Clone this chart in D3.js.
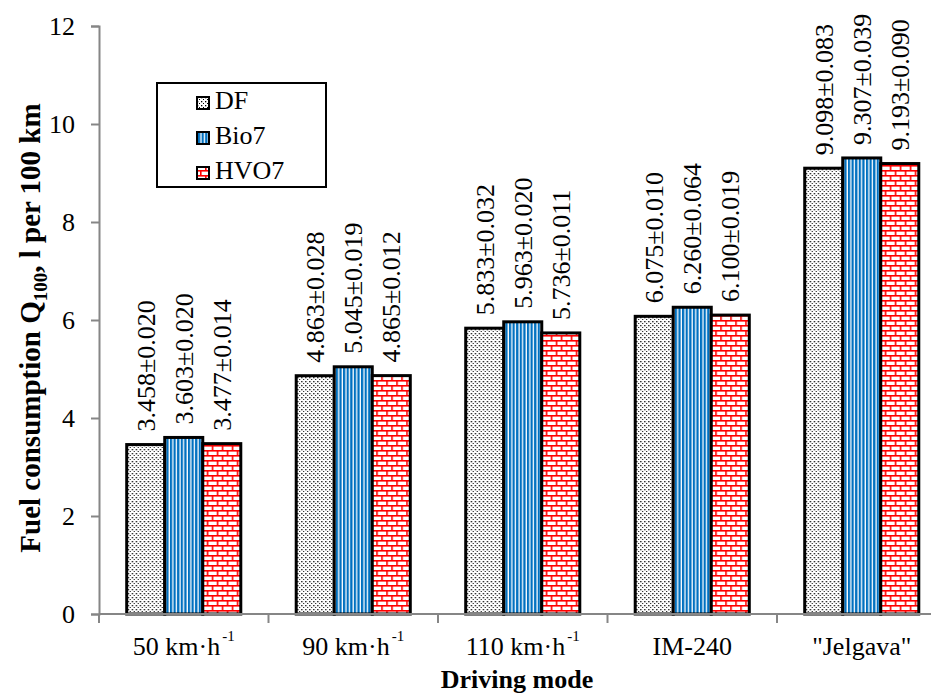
<!DOCTYPE html>
<html>
<head>
<meta charset="utf-8">
<script src="https://cdn.jsdelivr.net/npm/d3@7"></script>
<style>
  html, body { margin: 0; padding: 0; background: #fff; }
  svg { display: block; }
  text { font-family: "Liberation Serif", "Times New Roman", serif; fill: #000; }
</style>
</head>
<body>
<svg id="chart" width="931" height="695"></svg>
<script>
// Driving modes (x categories) and their unit superscripts
const categories = ["50 km·h", "90 km·h", "110 km·h", "IM-240", "\"Jelgava\""];
const categorySup = ["-1", "-1", "-1", "", ""];

// Fuel types
const series = ["DF", "Bio7", "HVO7"];

// Mean fuel consumption, l per 100 km, and its deviation
const dfValues   = [3.458, 4.863, 5.833, 6.075, 9.098];
const dfErr      = [0.020, 0.028, 0.032, 0.010, 0.083];
const bio7Values = [3.603, 5.045, 5.963, 6.260, 9.307];
const bio7Err    = [0.020, 0.019, 0.020, 0.064, 0.039];
const hvo7Values = [3.477, 4.865, 5.736, 6.100, 9.193];
const hvo7Err    = [0.014, 0.012, 0.011, 0.019, 0.090];

const yTicks = [0, 2, 4, 6, 8, 10, 12];

const valuesBySeries = { DF: dfValues, Bio7: bio7Values, HVO7: hvo7Values };
const errBySeries = { DF: dfErr, Bio7: bio7Err, HVO7: hvo7Err };

const svg = d3.select("#chart");

// ----- fill patterns -----
const defs = svg.append("defs");

const pDots = defs.append("pattern").attr("id", "pat-df")
  .attr("patternUnits", "userSpaceOnUse").attr("width", 4).attr("height", 4);
pDots.append("rect").attr("width", 4).attr("height", 4).attr("fill", "#fff");
pDots.append("rect").attr("x", 1).attr("y", 1).attr("width", 1.3).attr("height", 1.3).attr("fill", "#000");
pDots.append("rect").attr("x", 3).attr("y", 3).attr("width", 1.3).attr("height", 1.3).attr("fill", "#000");

const pStripes = defs.append("pattern").attr("id", "pat-bio7")
  .attr("patternUnits", "userSpaceOnUse").attr("width", 3.6).attr("height", 4);
pStripes.append("rect").attr("width", 3.6).attr("height", 4).attr("fill", "#fff");
pStripes.append("rect").attr("width", 2.3).attr("height", 4).attr("fill", "#0070C0");

const bw = 10, bh = 5, lw = 1.6;
const pBricks = defs.append("pattern").attr("id", "pat-hvo7")
  .attr("patternUnits", "userSpaceOnUse").attr("width", bw).attr("height", bh * 2);
pBricks.append("rect").attr("width", bw).attr("height", bh * 2).attr("fill", "#fff");
pBricks.append("rect").attr("x", 0).attr("y", 0).attr("width", bw).attr("height", lw).attr("fill", "#f00");
pBricks.append("rect").attr("x", 0).attr("y", bh).attr("width", bw).attr("height", lw).attr("fill", "#f00");
pBricks.append("rect").attr("x", 0).attr("y", 0).attr("width", lw).attr("height", bh).attr("fill", "#f00");
pBricks.append("rect").attr("x", bw / 2).attr("y", bh).attr("width", lw).attr("height", bh).attr("fill", "#f00");

const fillFor = { DF: "url(#pat-df)", Bio7: "url(#pat-bio7)", HVO7: "url(#pat-hvo7)" };

// ----- scales -----
const y = d3.scaleLinear().domain([0, 12]).range([614, 26]);
const x0 = d3.scaleBand().domain(categories).range([99, 946.5])
  .paddingInner(0.327).paddingOuter(0.1635);
const x1 = d3.scaleBand().domain(series).range([0, x0.bandwidth()]);

const axisColor = "#868686";

// ----- y axis -----
const yAxis = svg.append("g").attr("transform", "translate(99,0)")
  .call(d3.axisLeft(y).tickValues(yTicks).tickSize(8).tickPadding(16).tickFormat(d3.format("d")));
yAxis.select(".domain").attr("stroke", axisColor).attr("stroke-width", 2);
yAxis.selectAll(".tick line").attr("stroke", axisColor).attr("stroke-width", 2);
yAxis.selectAll(".tick text").attr("font-size", 26)
  .style("font-family", "'Liberation Serif', 'Times New Roman', serif").attr("fill", "#000");

// ----- bars -----
const groups = svg.append("g").selectAll("g")
  .data(categories).join("g")
  .attr("transform", d => `translate(${x0(d)},0)`);

const barData = (c, i) => series.map(s => ({ s, v: valuesBySeries[s][i], e: errBySeries[s][i] }));

groups.selectAll("rect")
  .data((c, i) => barData(c, i)).join("rect")
  .attr("x", d => x1(d.s))
  .attr("y", d => y(d.v))
  .attr("width", x1.bandwidth())
  .attr("height", d => y(0) - y(d.v))
  .attr("fill", d => fillFor[d.s])
  .attr("stroke", "#000").attr("stroke-width", 3);

// value labels, rotated
groups.selectAll("text.val")
  .data((c, i) => barData(c, i)).join("text")
  .attr("class", "val")
  .attr("transform", d => `translate(${x1(d.s) + x1.bandwidth() / 2},${y(d.v) - 13}) rotate(-90)`)
  .attr("dy", "0.34em")
  .attr("font-size", 26)
  .text(d => d.v.toFixed(3) + "±" + d.e.toFixed(3));

// ----- x axis -----
const xAxis = svg.append("g");
xAxis.append("line")
  .attr("x1", x0.range()[0]).attr("x2", x0.range()[1])
  .attr("y1", y(0)).attr("y2", y(0))
  .attr("stroke", axisColor).attr("stroke-width", 2);
const boundaries = d3.range(categories.length + 1).map(i => x0.range()[0] + i * x0.step());
xAxis.selectAll("line.tick").data(boundaries).join("line")
  .attr("class", "tick")
  .attr("x1", d => d).attr("x2", d => d)
  .attr("y1", y(0)).attr("y2", y(0) + 9)
  .attr("stroke", axisColor).attr("stroke-width", 2);

const catLabels = xAxis.selectAll("text.cat").data(categories).join("text")
  .attr("class", "cat")
  .attr("x", d => x0(d) + x0.bandwidth() / 2)
  .attr("y", 655)
  .attr("text-anchor", "middle")
  .attr("font-size", 26);
catLabels.append("tspan").text(d => d);
catLabels.append("tspan")
  .attr("dx", 2).attr("dy", -14).attr("font-size", 15)
  .text((d, i) => categorySup[i]);

// ----- axis titles -----
svg.append("text")
  .attr("x", 517).attr("y", 688)
  .attr("text-anchor", "middle")
  .attr("font-size", 26).attr("font-weight", "bold")
  .text("Driving mode");

const yTitle = svg.append("text")
  .attr("transform", "translate(40,328) rotate(-90)")
  .attr("text-anchor", "middle")
  .attr("font-size", 29).attr("font-weight", "bold");
yTitle.append("tspan").text("Fuel consumption Q");
yTitle.append("tspan").attr("font-size", 19).attr("dy", 7).text("100");
yTitle.append("tspan").attr("dy", -7).text(", l per 100 km");

// ----- legend -----
const legend = svg.append("g");
legend.append("rect")
  .attr("x", 157).attr("y", 83).attr("width", 169).attr("height", 104)
  .attr("fill", "#fff").attr("stroke", "#000").attr("stroke-width", 2);
const legRows = legend.selectAll("g.row").data(series).join("g")
  .attr("class", "row")
  .attr("transform", (d, i) => `translate(0,${i * 35})`);
legRows.append("rect")
  .attr("x", 197).attr("y", 97).attr("width", 12).attr("height", 12)
  .attr("fill", d => fillFor[d]).attr("stroke", "#000").attr("stroke-width", 2);
legRows.append("text")
  .attr("x", 215).attr("y", 109)
  .attr("font-size", 26)
  .text(d => d);
</script>
</body>
</html>
